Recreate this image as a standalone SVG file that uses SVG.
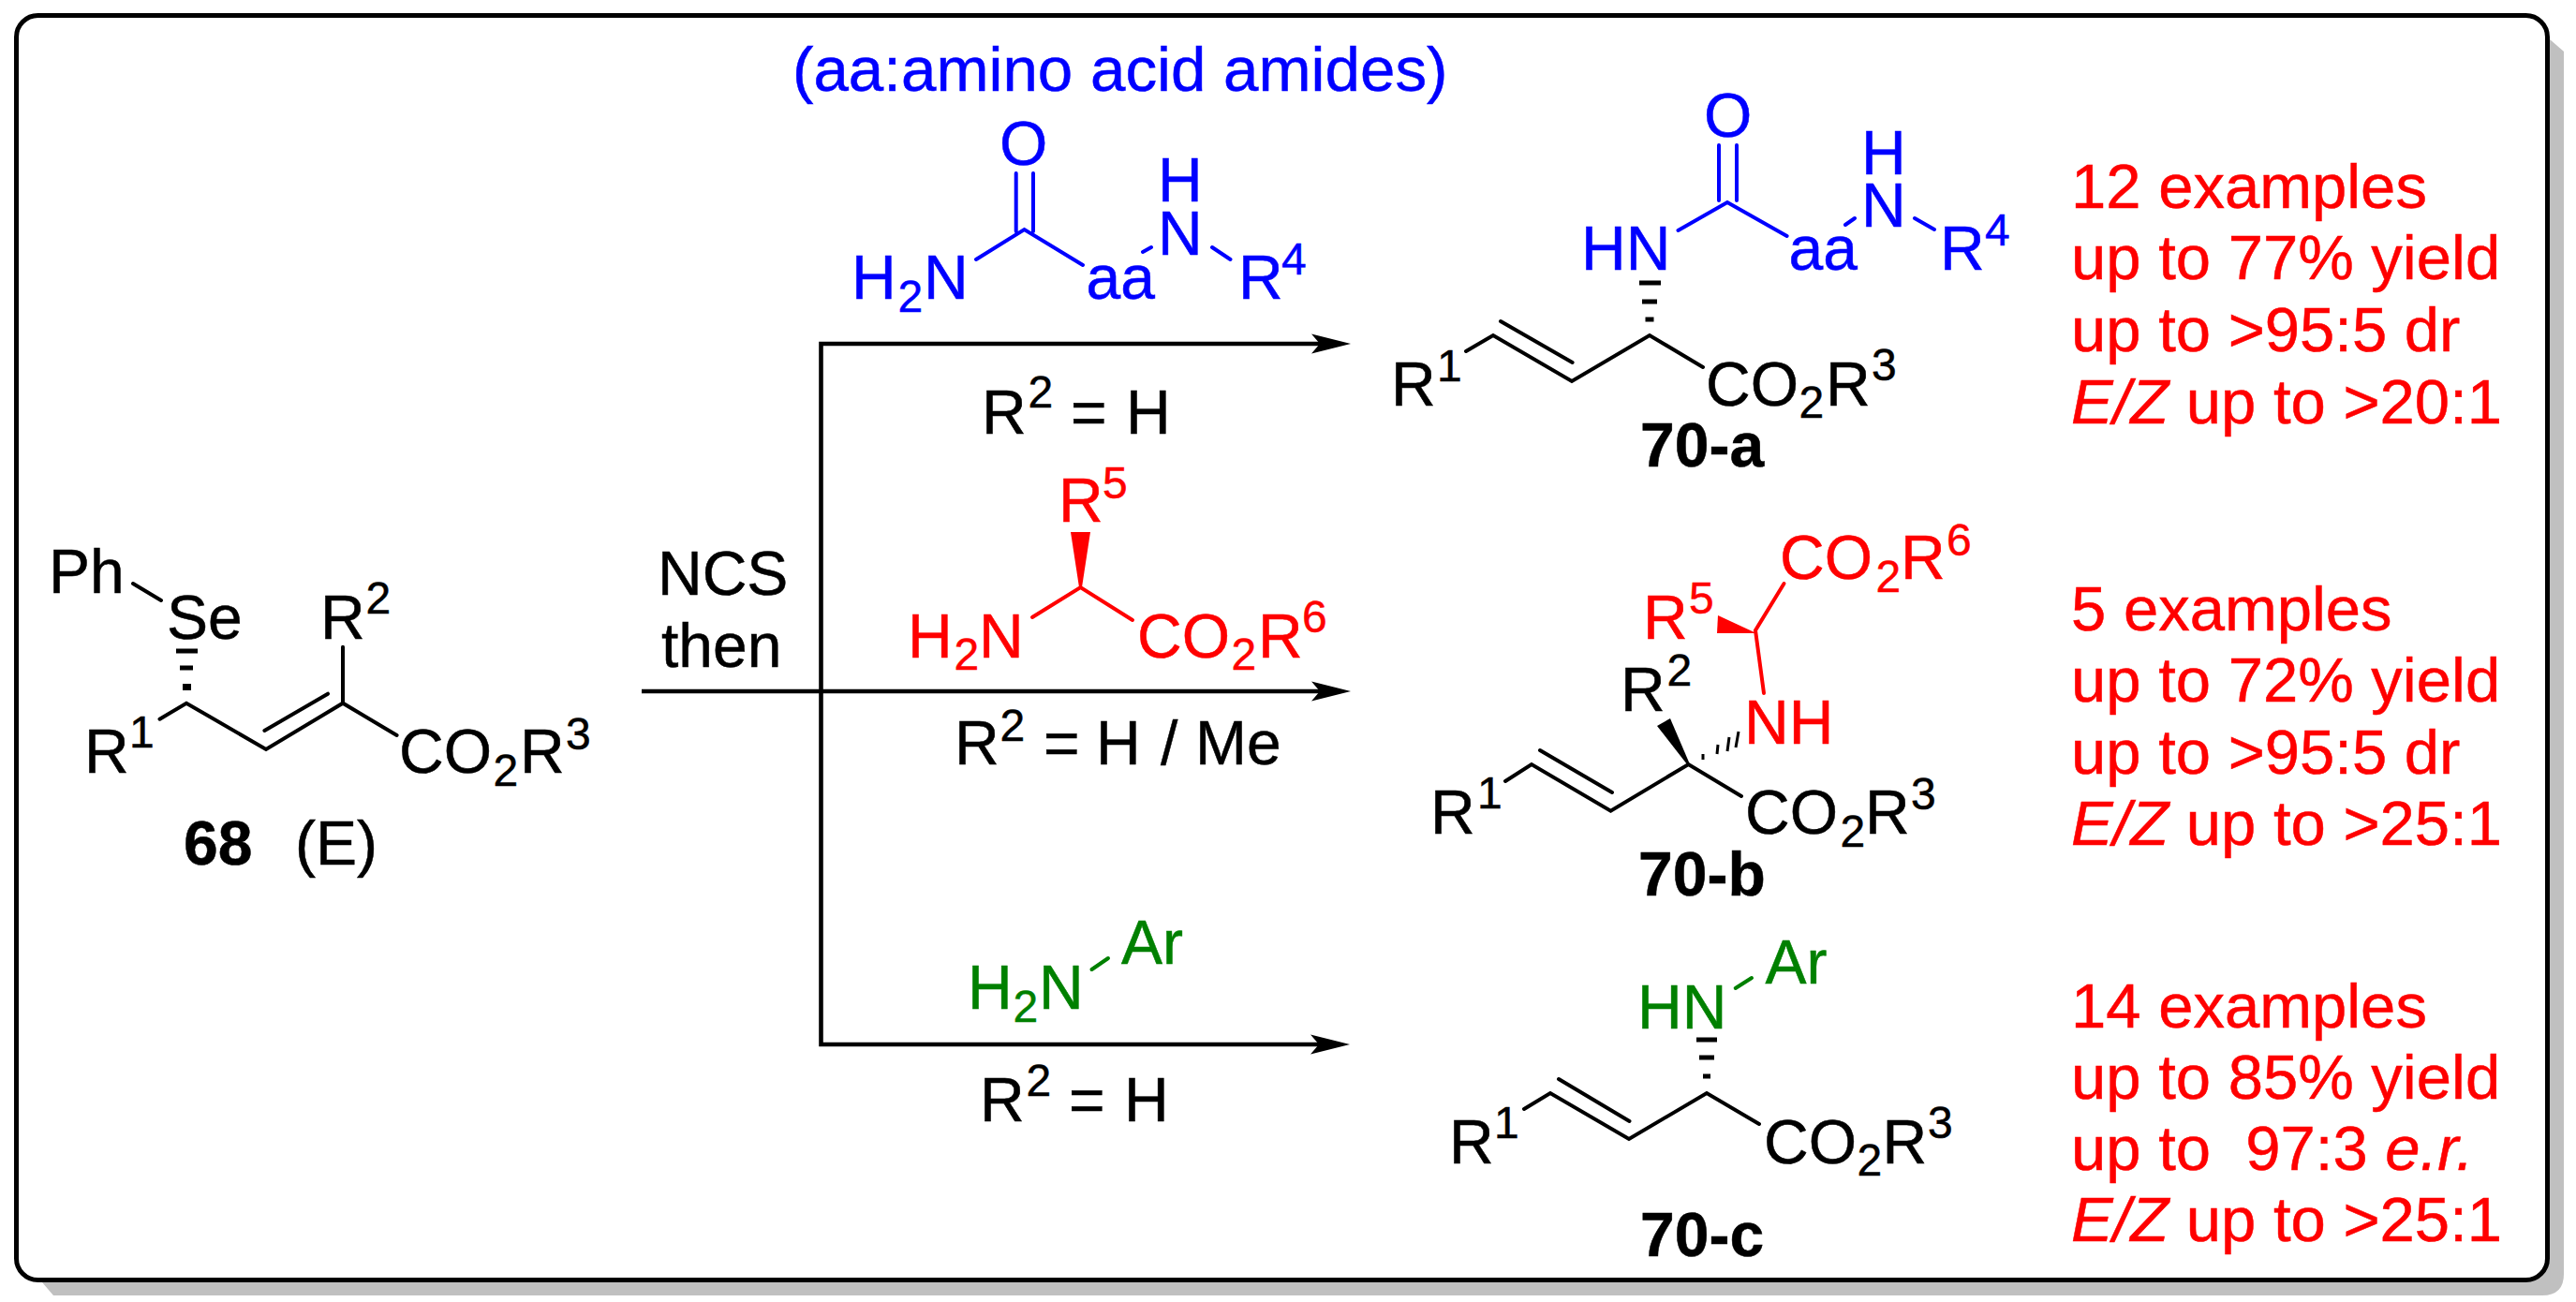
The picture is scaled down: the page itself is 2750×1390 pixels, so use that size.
<svg xmlns="http://www.w3.org/2000/svg" width="2750" height="1390" viewBox="0 0 2750 1390">
<style>
text{font-family:"Liberation Sans",Arial,sans-serif;font-size:66px;fill:currentColor;stroke:currentColor;stroke-width:.5;color:#000}
.s{font-size:48px}
.b{font-weight:bold}
.stat{font-size:67px;color:#f00}
.title{font-size:67.300px}
.i{font-style:italic}
.blue text{color:#00f}.red text{color:#f00}.green text{color:#008000}
.bond{fill:none;stroke:#000;stroke-width:4;stroke-linecap:round;stroke-linejoin:miter}
.bond.cb{stroke:#00f}.bond.cr{stroke:#f00}.bond.cg{stroke:#008000}
.hash{fill:none;stroke:#000;stroke-width:5}
.arrow{fill:none;stroke:#000;stroke-width:4.6;marker-end:url(#head)}
</style>
<defs>
<marker id="head" markerUnits="userSpaceOnUse" markerWidth="44" markerHeight="24" viewBox="0 0 44 24" refX="12" refY="12" orient="auto" overflow="visible">
<path d="M42 12L0 1.500L9 12L0 22.500Z" fill="#000"/>
</marker>
</defs>
<g id="frame">
<path d="M2722 42L2737 55V1360Q2737 1383 2714 1383H57L45 1369Z" fill="#c0c0c0"/>
<rect x="17.500" y="16.500" width="2702" height="1350" rx="23" ry="23" fill="#fff" stroke="#000" stroke-width="5"/>
</g>
<g id="connectors">
<path class="arrow" d="M685 738H1412"/>
<path class="arrow" d="M876.500 738V367H1412"/>
<path class="arrow" d="M876.500 738V1115H1411"/>
</g>
<g id="node-68">
<path class="bond" d="M142 623L172 641M170.500 767.700L199 750.700L284 800L366 750.700L423.600 785M282.400 780L350 740.700M366 690.700V750.700"/>
<path class="hash" d="M188 695H211M192 713H206"/>
<path d="M195 730H204V737H195Z" fill="#000"/>
<text x="52" y="633">Ph</text>
<text x="178" y="682">Se</text>
<text x="342" y="682">R<tspan class="s" x="390.500" y="655">2</tspan></text>
<text x="90" y="825">R<tspan class="s" x="138" y="798">1</tspan></text>
<text x="426" y="825">CO<tspan class="s" x="526.500" y="839">2</tspan><tspan x="555" y="825">R</tspan><tspan class="s" x="604" y="800">3</tspan></text>
<text class="b" x="196" y="923">68</text>
<text x="315" y="923">(E)</text>
</g>
<g id="node-conditions">
<text x="702" y="635">NCS</text>
<text x="706" y="712">then</text>
</g>
<g id="node-reagent-a" class="blue">
<text class="title" x="846" y="97">(aa:amino acid amides)</text>
<path class="bond cb" d="M1084.700 185V247M1103 185V247M1042 277L1093.500 245L1156 283M1220 269L1229 264M1294 264L1313.500 277"/>
<text x="1067" y="176">O</text>
<text x="909" y="319">H<tspan class="s" x="958.500" y="333">2</tspan><tspan x="986" y="319">N</tspan></text>
<text x="1159.500" y="319">aa</text>
<text x="1236" y="215">H</text>
<text x="1236" y="272">N</text>
<text x="1322" y="319">R<tspan class="s" x="1368" y="293">4</tspan></text>
</g>
<g id="node-cond-a">
<text x="1048" y="463">R<tspan class="s" x="1097.500" y="435">2</tspan><tspan x="1143" y="463">=</tspan><tspan x="1202" y="463">H</tspan></text>
</g>
<g id="node-70a">
<path class="bond" d="M1565 375L1594 358L1678 407L1761 358L1818 392M1602 343L1678.600 387"/>
<path class="hash" d="M1750 302H1773M1753 322H1769M1756.500 341H1765.500"/>
<path class="bond cb" d="M1835 155V214M1854 155V214M1791.500 246L1844 216L1907.600 252M1970 240L1980 233M2044 233L2065 245"/>
<g class="blue">
<text x="1819" y="146">O</text>
<text x="1688" y="288">HN</text>
<text x="1909.500" y="288">aa</text>
<text x="1987" y="186">H</text>
<text x="1987" y="242">N</text>
<text x="2071" y="288">R<tspan class="s" x="2119" y="262">4</tspan></text>
</g>
<text x="1485" y="433">R<tspan class="s" x="1534" y="407">1</tspan></text>
<text x="1821" y="433">CO<tspan class="s" x="1920.500" y="446">2</tspan><tspan x="1949" y="433">R</tspan><tspan class="s" x="1998" y="406">3</tspan></text>
<text class="b" x="1751" y="498">70-a</text>
</g>
<g id="node-reagent-b" class="red">
<path d="M1143 568H1164L1155 627H1152Z" fill="#f00"/>
<path class="bond cr" d="M1102 659L1153.500 627L1209 662"/>
<text x="1130" y="557">R<tspan class="s" x="1177" y="532">5</tspan></text>
<text x="969" y="702">H<tspan class="s" x="1018.500" y="715">2</tspan><tspan x="1045" y="702">N</tspan></text>
<text x="1214" y="702">CO<tspan class="s" x="1314.500" y="715">2</tspan><tspan x="1343" y="702">R</tspan><tspan class="s" x="1390" y="675">6</tspan></text>
</g>
<g id="node-cond-b">
<text x="1019" y="816">R<tspan class="s" x="1067.500" y="791">2</tspan><tspan x="1114" y="816">=</tspan><tspan x="1170" y="816">H</tspan><tspan x="1239" y="816">/</tspan><tspan x="1276" y="816">Me</tspan></text>
</g>
<g id="node-70b">
<path d="M1834 657L1833 676L1875 676Z" fill="#f00"/>
<path class="bond cr" d="M1904.500 623L1874 673L1883 740"/>
<path d="M1783 767L1769 775L1801 816H1804Z" fill="#000"/>
<path d="M1818 805L1818 811M1834 795L1833 805M1846 787L1844 802M1856 781L1853 798" fill="none" stroke="#000" stroke-width="3"/>
<path class="bond" d="M1607 834L1635 816L1719.500 865.700L1802.500 816L1859 850M1644 801L1721 846"/>
<g class="red">
<text x="1900" y="618">CO<tspan class="s" x="2002.500" y="632">2</tspan><tspan x="2029" y="618">R</tspan><tspan class="s" x="2078" y="593">6</tspan></text>
<text x="1754" y="682">R<tspan class="s" x="1803" y="655">5</tspan></text>
<text x="1862" y="794">NH</text>
</g>
<text x="1730" y="759">R<tspan class="s" x="1779.500" y="732">2</tspan></text>
<text x="1527" y="890">R<tspan class="s" x="1577" y="863">1</tspan></text>
<text x="1863" y="890">CO<tspan class="s" x="1964.500" y="904">2</tspan><tspan x="1991" y="890">R</tspan><tspan class="s" x="2040" y="864">3</tspan></text>
<text class="b" x="1749" y="956">70-b</text>
</g>
<g id="node-reagent-c" class="green">
<path class="bond cg" d="M1165.500 1035L1183 1023"/>
<text x="1033" y="1077">H<tspan class="s" x="1081.500" y="1091">2</tspan><tspan x="1109" y="1077">N</tspan></text>
<text x="1197" y="1029">Ar</text>
</g>
<g id="node-cond-c">
<text x="1046" y="1197">R<tspan class="s" x="1095.500" y="1170">2</tspan><tspan x="1141" y="1197">=</tspan><tspan x="1200" y="1197">H</tspan></text>
</g>
<g id="node-70c">
<path class="bond" d="M1627 1184L1655 1167L1739 1216L1822 1167L1878 1200M1664 1152L1739.500 1197"/>
<path class="hash" d="M1811 1110H1833M1814 1129H1830M1818 1149H1826"/>
<path class="bond cg" d="M1852.700 1055L1870 1044"/>
<g class="green">
<text x="1748" y="1098">HN</text>
<text x="1884.500" y="1050">Ar</text>
</g>
<text x="1547" y="1242">R<tspan class="s" x="1595" y="1215">1</tspan></text>
<text x="1883" y="1242">CO<tspan class="s" x="1982.500" y="1255">2</tspan><tspan x="2009.500" y="1242">R</tspan><tspan class="s" x="2058" y="1215">3</tspan></text>
<text class="b" x="1751" y="1341">70-c</text>
</g>
<g id="node-stats-a">
<text class="stat" x="2211" y="222">12 examples</text>
<text class="stat" x="2211" y="298">up to 77% yield</text>
<text class="stat" x="2211" y="375">up to &gt;95:5 dr</text>
<text class="stat" x="2211" y="452"><tspan class="i">E/Z</tspan> up to &gt;20:1</text>
</g>
<g id="node-stats-b">
<text class="stat" x="2211" y="673">5 examples</text>
<text class="stat" x="2211" y="749">up to 72% yield</text>
<text class="stat" x="2211" y="826">up to &gt;95:5 dr</text>
<text class="stat" x="2211" y="902"><tspan class="i">E/Z</tspan> up to &gt;25:1</text>
</g>
<g id="node-stats-c">
<text class="stat" x="2211" y="1097">14 examples</text>
<text class="stat" x="2211" y="1173">up to 85% yield</text>
<text class="stat" x="2211" y="1249" xml:space="preserve">up to  97:3 <tspan class="i">e.r.</tspan></text>
<text class="stat" x="2211" y="1325"><tspan class="i">E/Z</tspan> up to &gt;25:1</text>
</g>
</svg>
